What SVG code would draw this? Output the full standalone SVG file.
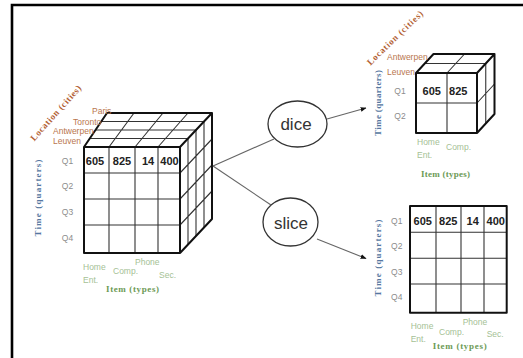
<svg xmlns="http://www.w3.org/2000/svg" width="523" height="358" viewBox="0 0 523 358">
<defs>
<style>
.edge{fill:none;stroke:#111;stroke-width:2;stroke-linejoin:round}
.grid{fill:none;stroke:#333;stroke-width:1.1}
.num{font-family:"Liberation Sans",Arial,sans-serif;font-size:11px;font-weight:bold;fill:#222;text-anchor:middle}
.q{font-family:"Liberation Sans",Arial,sans-serif;font-size:8.5px;fill:#8c8c8c;text-anchor:middle}
.city{font-family:"Liberation Sans",Arial,sans-serif;font-size:8.5px;fill:#b9764e}
.item{font-family:"Liberation Sans",Arial,sans-serif;font-size:8.5px;fill:#a5c195}
.loc{font-family:"Liberation Serif","Times New Roman",serif;font-size:9px;font-weight:bold;fill:#b35f34;text-anchor:middle}
.time{font-family:"Liberation Serif","Times New Roman",serif;font-size:9px;font-weight:bold;fill:#56779f;text-anchor:middle}
.itype{font-family:"Liberation Serif","Times New Roman",serif;font-size:9px;font-weight:bold;fill:#6c9a55;text-anchor:middle}
.op{fill:#fff;stroke:#333;stroke-width:1.3}
.opt{font-family:"Liberation Sans",Arial,sans-serif;font-size:17px;fill:#333;text-anchor:middle}
.conn{stroke:#666;stroke-width:1.1;fill:none}
</style>
<marker id="arr" viewBox="0 0 10 10" refX="9" refY="5" markerWidth="6" markerHeight="6" orient="auto" markerUnits="userSpaceOnUse">
<path d="M0,1 L10,5 L0,9 Z" fill="#111"/>
</marker>
</defs>
<rect width="523" height="358" fill="#fff"/>
<path d="M12,358 V5 H523" fill="none" stroke="#000" stroke-width="2.6"/>

<g id="cube-main">
<!-- top face grid -->
<path class="grid" d="M89.75,138.5 H188 M95.5,130 H196 M101.25,121.5 H204 M109,147 L134,113 M135,147 L163,113 M158,147 L188,113"/>
<!-- right face grid -->
<path class="grid" d="M188,138.5 V244.5 M196,130 V236 M204,121.5 V227.5 M180,173 L212,139 M180,199 L212,165 M180,225 L212,191"/>
<!-- front grid -->
<path class="grid" d="M109,147 V253 M135,147 V253 M158,147 V253 M84,173 H180 M84,199 H180 M84,225 H180"/>
<path class="edge" d="M84,147 L107,113 H212 L180,147 Z M180,147 L212,113 V219 L180,253 M84,147 H180 V253 H84 Z"/>
<text class="num" x="95" y="164.5">605</text>
<text class="num" x="122" y="164.5">825</text>
<text class="num" x="148" y="164.5">14</text>
<text class="num" x="169.5" y="164.5">400</text>
<text class="q" x="67.5" y="163.7">Q1</text>
<text class="q" x="67.5" y="189">Q2</text>
<text class="q" x="67.5" y="215">Q3</text>
<text class="q" x="67.5" y="240.5">Q4</text>
<text class="time" transform="translate(41,198) rotate(-90)" textLength="77" lengthAdjust="spacing">Time (quarters)</text>
<text class="loc" transform="translate(58,115) rotate(-48)" textLength="71" lengthAdjust="spacing">Location (cities)</text>
<text class="city" x="92" y="113.7">Paris</text>
<text class="city" x="73" y="125">Toronto</text>
<text class="city" x="53" y="133.7">Antwerpen</text>
<text class="city" x="53" y="143.7">Leuven</text>
<text class="item" x="83" y="269.7">Home</text>
<text class="item" x="83" y="283">Ent.</text>
<text class="item" x="113" y="274">Comp.</text>
<text class="item" x="135" y="264.7">Phone</text>
<text class="item" x="159" y="278">Sec.</text>
<text class="itype" x="132.5" y="291.5" textLength="53" lengthAdjust="spacing">Item (types)</text>
</g>

<g id="op-dice">
<ellipse class="op" cx="297.5" cy="124" rx="29.5" ry="23"/>
<text class="opt" x="296" y="130">dice</text>
</g>

<g id="op-slice">
<ellipse class="op" cx="290.5" cy="222" rx="27.5" ry="24"/>
<text class="opt" x="291" y="229">slice</text>
</g>

<g id="cube-dice">
<path class="grid" d="M424.75,63.5 H485.75 M447,73 L464.5,54 M485.75,63.5 V123.5 M477,103 L494.5,84"/>
<path class="grid" d="M447,73 V133 M416,103 H477"/>
<path class="edge" d="M416,73 L433.5,54 H494.5 L477,73 Z M477,73 L494.5,54 V114 L477,133 M416,73 H477 V133 H416 Z"/>
<text class="num" x="431.7" y="94.8">605</text>
<text class="num" x="458.3" y="94.8">825</text>
<text class="q" x="400" y="93.7">Q1</text>
<text class="q" x="400" y="119">Q2</text>
<text class="time" transform="translate(381,103) rotate(-90)" textLength="66" lengthAdjust="spacing">Time (quarters)</text>
<text class="loc" transform="translate(397,40) rotate(-44)" textLength="74" lengthAdjust="spacing">Location (cities)</text>
<text class="city" x="387" y="60.3">Antwerpen</text>
<text class="city" x="387" y="74.7">Leuven</text>
<text class="item" x="417" y="144.7">Home</text>
<text class="item" x="417" y="158">Ent.</text>
<text class="item" x="446" y="149.7">Comp.</text>
<text class="itype" x="445.5" y="176.5" textLength="49" lengthAdjust="spacing">Item (types)</text>
</g>

<g id="square-slice">
<path class="grid" d="M436,206 V312.7 M461,206 V312.7 M484,206 V312.7 M410,232.3 H506.7 M410,258.3 H506.7 M410,284 H506.7"/>
<rect class="edge" x="410" y="206" width="96.7" height="106.7"/>
<text class="num" x="422.7" y="224.5">605</text>
<text class="num" x="448.3" y="224.5">825</text>
<text class="num" x="472.7" y="224.5">14</text>
<text class="num" x="495.7" y="224.5">400</text>
<text class="q" x="396.7" y="223.7">Q1</text>
<text class="q" x="396.7" y="249">Q2</text>
<text class="q" x="396.7" y="274.7">Q3</text>
<text class="q" x="396.7" y="300.3">Q4</text>
<text class="time" transform="translate(380.5,258) rotate(-90)" textLength="77" lengthAdjust="spacing">Time (quarters)</text>
<text class="item" x="410.7" y="329">Home</text>
<text class="item" x="410.7" y="342.3">Ent.</text>
<text class="item" x="439" y="334.7">Comp.</text>
<text class="item" x="462.7" y="324.7">Phone</text>
<text class="item" x="486.7" y="337">Sec.</text>
<text class="itype" x="459.7" y="348.9" textLength="54" lengthAdjust="spacing">Item (types)</text>
</g>

<g id="connectors">
<line class="conn" x1="213" y1="166" x2="274" y2="139"/>
<line class="conn" x1="213" y1="166" x2="271" y2="205"/>
<line class="conn" x1="327" y1="119" x2="366" y2="108" marker-end="url(#arr)"/>
<line class="conn" x1="317" y1="239" x2="366" y2="258.5" marker-end="url(#arr)"/>
</g>
</svg>
